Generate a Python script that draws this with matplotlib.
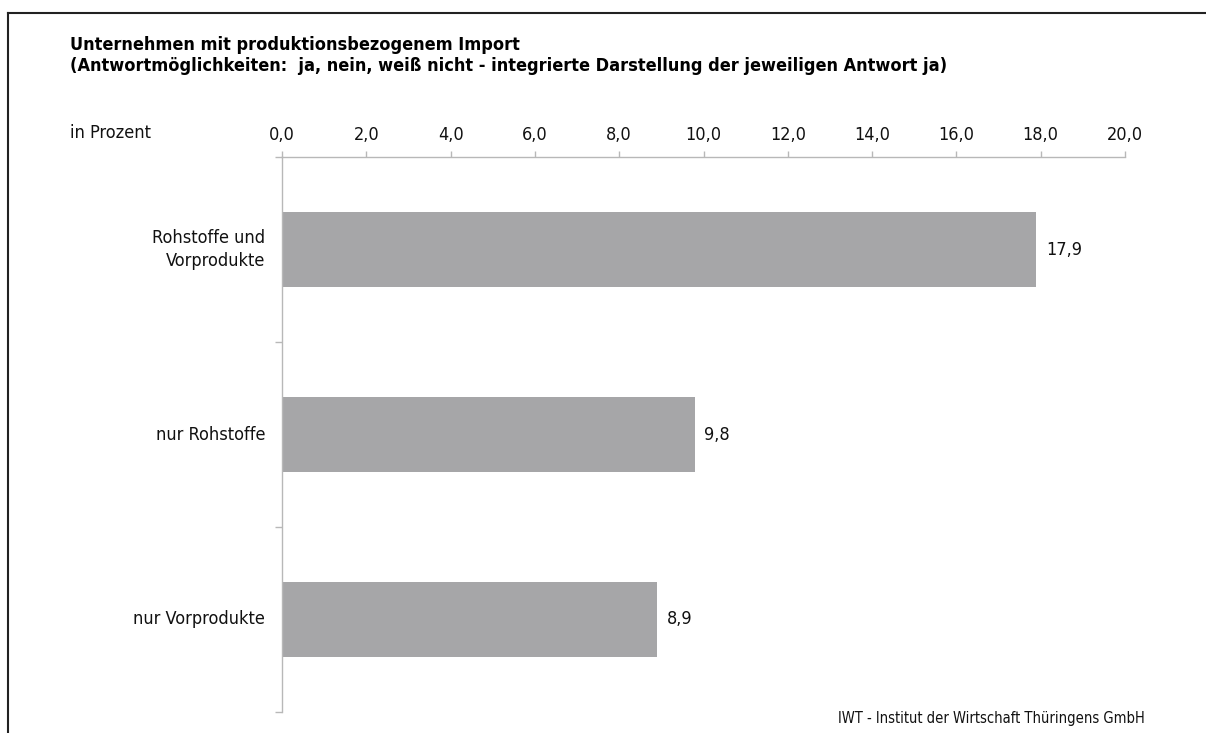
import matplotlib
matplotlib.use("Agg")
import matplotlib.pyplot as plt
from matplotlib.lines import Line2D

plt.rcParams["font.family"] = ["DejaVu Sans"]
plt.rcParams["font.stretch"] = "condensed"

categories = ["Rohstoffe und\nVorprodukte", "nur Rohstoffe", "nur Vorprodukte"]
values = [17.9, 9.8, 8.9]
value_labels = ["17,9", "9,8", "8,9"]
xticks = [0, 2, 4, 6, 8, 10, 12, 14, 16, 18, 20]
xtick_labels = ["0,0", "2,0", "4,0", "6,0", "8,0", "10,0", "12,0", "14,0", "16,0", "18,0", "20,0"]
title1 = "Unternehmen mit produktionsbezogenem Import"
title2 = "(Antwortmöglichkeiten:  ja, nein, weiß nicht - integrierte Darstellung der jeweiligen Antwort ja)"
source = "IWT - Institut der Wirtschaft Thüringens GmbH"

W, H = 1206, 733
fig = plt.figure(figsize=(W / 100, H / 100), dpi=100)
ax = fig.add_axes([282 / W, 1 - 712 / H, (1125 - 282) / W, (712 - 157) / H])

ypos = list(range(len(categories)))
ax.barh(ypos, values, height=0.41, color="#a6a6a8", zorder=2)
ax.set_ylim(len(categories) - 0.5, -0.5)
ax.set_xlim(0, 20)

ax.xaxis.tick_top()
ax.set_xticks(xticks)
ax.set_xticklabels(xtick_labels, fontsize=13, color="#111111")
ax.tick_params(axis="x", length=4, width=1, color="#b8b8b8", pad=5)

ax.set_yticks([y + 0.5 for y in [-1] + ypos])
ax.set_yticklabels([])
ax.tick_params(axis="y", length=5, width=1, color="#b8b8b8")
for y, c in zip(ypos, categories):
    ax.text(-0.4, y, c, ha="right", va="center", fontsize=13, color="#111111",
            linespacing=1.3)

for y, v, l in zip(ypos, values, value_labels):
    ax.text(v + 0.22, y, l, ha="left", va="center", fontsize=13, color="#111111")

for s in ["right", "bottom"]:
    ax.spines[s].set_visible(False)
for s in ["top", "left"]:
    ax.spines[s].set_color("#b8b8b8")
    ax.spines[s].set_linewidth(1)

fig.text(70 / W, 1 - 45 / H, title1, fontsize=13, fontweight="bold", va="center", ha="left")
fig.text(70 / W, 1 - 66 / H, title2, fontsize=13, fontweight="bold", va="center", ha="left")
fig.text(70 / W, 1 - 133 / H, "in Prozent", fontsize=13, va="center", ha="left", color="#111111")
fig.text(1145 / W, 1 - 718 / H, source, fontsize=10.5, va="center", ha="right", color="#111111")

# frame
fig.add_artist(Line2D([8 / W, 8 / W], [0, 1 - 13 / H], transform=fig.transFigure, color="#222222", lw=1.5))
fig.add_artist(Line2D([8 / W, 1], [1 - 13 / H, 1 - 13 / H], transform=fig.transFigure, color="#222222", lw=1.5))

fig.savefig("out.png", dpi=100)
